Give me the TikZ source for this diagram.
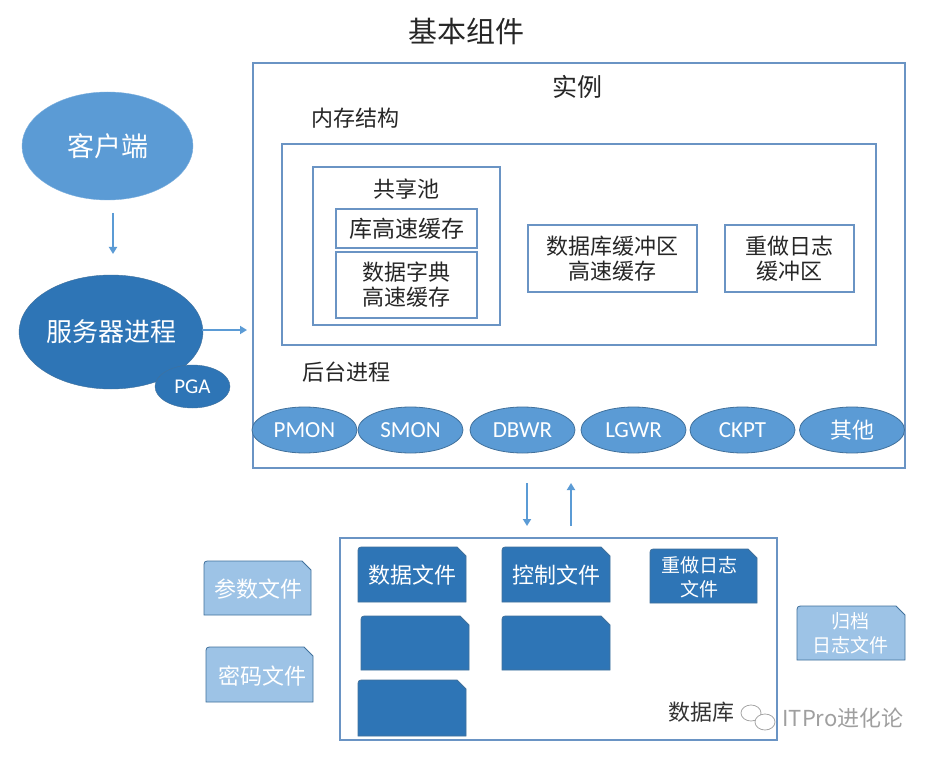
\documentclass[tikz,border=0pt]{standalone}
\usepackage{fontspec}
\setmainfont{Noto Sans CJK SC}
\newfontfamily\lat{Carlito}
\usetikzlibrary{arrows.meta,shapes.geometric}
\definecolor{lblue}{HTML}{5B9BD5}
\definecolor{dblue}{HTML}{2E75B6}
\definecolor{pblue}{HTML}{9DC3E6}
\definecolor{edgeb}{HTML}{41719C}
\definecolor{framec}{HTML}{6A94C4}
\newcommand{\fsz}[1]{\fontsize{#1}{#1}\selectfont}
\newcommand{\fszb}[2]{\fontsize{#1}{#2}\selectfont}
\newcommand{\filesh}[5]{%
  \path[fill=#5,draw=edgeb,line width=0.8] (#1,#4) -- (#1,#2+7) .. controls (#1,#2) .. (#1+7,#2) -- (#3-9,#2) -- (#3,#2+9) -- (#3,#4) -- cycle;}
\begin{document}
\begin{tikzpicture}[x=1pt,y=-1pt,
  framebox/.style={draw=framec,line width=1.3,inner sep=0,minimum width=#1},
  lbl/.style={inner sep=0,text=black!85},
  proc/.style={ellipse,fill=lblue,draw=edgeb,line width=0.8,minimum width=105,minimum height=46,inner sep=0,text=white,font=\lat\fsz{23}},
  arr/.style={draw=lblue,line width=2,-{Triangle[length=7,width=8]}},
  wtxt/.style={text=white,inner sep=0,align=center}]
\fill[white] (0,0) rectangle (936,759);
\useasboundingbox (0,0) rectangle (936,759);

\node[lbl,font=\fsz{29}] (title) at (466,31) {基本组件};

% instance
\node[framebox=652,minimum height=405] (inst) at (579,265.5) {};
\node[lbl,font=\fsz{25}] (instl) at (577,87) {实例};
\node[lbl,font=\fsz{22}] (meml) at (355,118) {内存结构};
\node[framebox=594,minimum height=201] (mem) at (579,244.5) {};
\node[framebox=187,minimum height=158] (sp) at (406.5,246) {};
\node[lbl,font=\fsz{22}] (spl) at (406.5,189) {共享池};
\node[framebox=141,minimum height=39,font=\fsz{23},text=black!85] (lib) at (406.5,228.5) {库高速缓存};
\node[framebox=141,minimum height=66,font=\fszb{22}{25},text=black!85,align=center] (dict) at (406.5,285) {数据字典\\高速缓存};
\node[framebox=169,minimum height=67,font=\fszb{22}{25},text=black!85,align=center] (dbbuf) at (612.5,258.5) {数据库缓冲区\\高速缓存};
\node[framebox=129,minimum height=67,font=\fszb{22}{25},text=black!85,align=center] (redobuf) at (789.5,258.5) {重做日志\\缓冲区};
\node[lbl,font=\fsz{22}] (bgl) at (346,372) {后台进程};

\node[proc] (pmon) at (304.5,430) {PMON};
\node[proc] (smon) at (410.5,430) {SMON};
\node[proc] (dbwr) at (522.5,430) {DBWR};
\node[proc] (lgwr) at (633.5,430) {LGWR};
\node[proc] (ckpt) at (742.5,430) {CKPT};
\node[proc,font=\fsz{22}] (other) at (852,430) {其他};

% client / server
\node[ellipse,fill=lblue,draw=lblue!80!white,minimum width=171,minimum height=108,inner sep=0,text=white,font=\fsz{27}] (client) at (107.5,146) {客户端};
\node[ellipse,fill=dblue,draw=edgeb,minimum width=178,minimum height=114,inner sep=0,text=white,font=\fsz{26}] (server) at (111,332) {服务器进程};
\node[ellipse,fill=dblue,draw=edgeb,minimum width=75,minimum height=43,inner sep=0,text=white,font=\lat\fsz{21}] (pga) at (192.5,386.5) {PGA};

\coordinate (c1) at (113,213);
\coordinate (c2) at (113,254);
\coordinate (s1) at (202,330);
\coordinate (s2) at (247,330);
\draw[arr] (c1) -- (c2);
\draw[arr] (s1) -- (s2);

\coordinate (d1) at (527,483);
\coordinate (d2) at (527,526);
\coordinate (u1) at (571,526);
\coordinate (u2) at (571,483);
\draw[arr] (d1) -- (d2);
\draw[arr] (u1) -- (u2);

% database
\node[framebox=437,minimum height=202] (db) at (558.5,639) {};
\node[inner sep=0,text=black!80,font=\fsz{22}] (dbl) at (701,712) {数据库};

\filesh{358}{547}{466}{602}{dblue}
\node[wtxt,font=\fsz{22}] (df) at (412,575) {数据文件};
\filesh{502}{547}{610}{602}{dblue}
\node[wtxt,font=\fsz{22}] (cf) at (556,575) {控制文件};
\filesh{650}{549}{757}{603}{dblue}
\node[wtxt,font=\fszb{19}{24},align=center] (rf) at (699,577) {重做日志\\文件};
\filesh{361}{616}{469}{670}{dblue}
\node[inner sep=0] (df2) at (415,643) {};
\filesh{502}{616}{610}{670}{dblue}
\node[inner sep=0] (cf2) at (556,643) {};
\filesh{358}{680}{466}{736}{dblue}
\node[inner sep=0] (df3) at (412,708) {};

\filesh{204}{561}{311}{615}{pblue}
\node[wtxt,font=\fsz{22}] (pf) at (258,589) {参数文件};
\filesh{206}{647}{313}{702}{pblue}
\node[wtxt,font=\fsz{22}] (pwf) at (262,676) {密码文件};
\filesh{797}{606}{905}{660}{pblue}
\node[wtxt,font=\fszb{19}{24},align=center] (af) at (850,633) {归档\\日志文件};

% watermark
\draw[gray!70,line width=0.8] (751,713) ellipse [x radius=10,y radius=8];
\draw[gray!70,line width=0.8,fill=white] (765,722) ellipse [x radius=10,y radius=8];
\node[inner sep=0,text=gray!75,font=\fsz{22}] (wm) at (843,718) {ITPro进化论};
\end{tikzpicture}
\end{document}
